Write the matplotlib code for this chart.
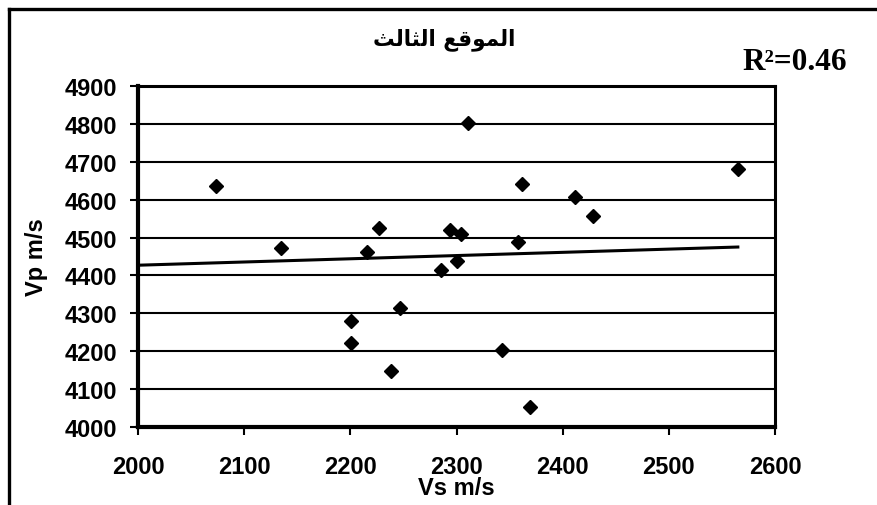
import matplotlib
matplotlib.use("Agg")
import matplotlib.pyplot as plt
from matplotlib.lines import Line2D

# data
vs = [2073, 2135, 2216, 2227, 2201, 2201, 2238, 2247, 2285, 2294,
      2300, 2304, 2311, 2343, 2358, 2362, 2369, 2412, 2429, 2565]
vp = [4636, 4472, 4462, 4526, 4281, 4223, 4149, 4314, 4414, 4520,
      4439, 4510, 4802, 4202, 4489, 4642, 4053, 4606, 4558, 4680]
trend_x = [2000, 2565]
trend_y = [4427, 4475]
x_ticks = [2000, 2100, 2200, 2300, 2400, 2500, 2600]
y_ticks = [4000, 4100, 4200, 4300, 4400, 4500, 4600, 4700, 4800, 4900]

title = "الموقع الثالث"
r2_text = "R²=0.46"

# matplotlib has no Arabic shaping -> pick presentation forms by hand
FORMS = {
    'ا': ('\uFE8D', '\uFE8E', None, None),
    'و': ('\uFEED', '\uFEEE', None, None),
    'ل': ('\uFEDD', '\uFEDE', '\uFEDF', '\uFEE0'),
    'م': ('\uFEE1', '\uFEE2', '\uFEE3', '\uFEE4'),
    'ق': ('\uFED5', '\uFED6', '\uFED7', '\uFED8'),
    'ع': ('\uFEC9', '\uFECA', '\uFECB', '\uFECC'),
    'ث': ('\uFE99', '\uFE9A', '\uFE9B', '\uFE9C'),
}


def shape_arabic(text):
    out = []
    for i, ch in enumerate(text):
        if ch not in FORMS:
            out.append(ch)
            continue
        prev = text[i - 1] if i > 0 else ''
        nxt = text[i + 1] if i + 1 < len(text) else ''
        iso, fin, ini, med = FORMS[ch]
        j_prev = prev in FORMS and FORMS[prev][2] is not None
        j_next = ini is not None and nxt in FORMS
        if j_prev and j_next:
            out.append(med)
        elif j_prev:
            out.append(fin)
        elif j_next:
            out.append(ini)
        else:
            out.append(iso)
    return ''.join(out)[::-1]   # right-to-left


W, H = 877, 506
fig = plt.figure(figsize=(W / 100, H / 100), dpi=100)
ax = fig.add_axes([138 / W, 1 - 428 / H, (775 - 138) / W, (428 - 87) / H])

ax.plot(vs, vp, 'D', color='black', markersize=7.2, zorder=3)
ax.plot(trend_x, trend_y, '-', color='black', lw=2.2, zorder=2)

ax.set_xlim(2000, 2600)
ax.set_ylim(4000, 4900)
ax.set_xticks(x_ticks)
ax.set_yticks(y_ticks)
ax.yaxis.grid(True, color='black', lw=1.5)
ax.set_axisbelow(True)

tick_font = dict(family='Liberation Sans', weight='bold', size=17)
ax.set_xticklabels([str(t) for t in x_ticks], fontdict=tick_font)
ax.set_yticklabels([str(t) for t in y_ticks], fontdict=tick_font)
ax.tick_params(axis='x', direction='out', length=6, width=1.5, pad=14)
ax.tick_params(axis='y', direction='out', length=6, width=1.5, pad=9)

for side in ['left', 'bottom']:
    ax.spines[side].set_linewidth(3)
for side in ['right', 'top']:
    ax.spines[side].set_linewidth(2.2)

ax.set_xlabel("Vs m/s", fontdict=tick_font, labelpad=-1)
ax.set_ylabel("Vp m/s", fontdict=tick_font, labelpad=12)

fig.text(444 / W, 1 - 40 / H, shape_arabic(title), ha='center', va='center',
         family=['DejaVu Sans'], weight='bold', size=15.5)
fig.text(847 / W, 1 - 62 / H, r2_text, ha='right', va='center',
         family='Liberation Serif', weight='bold', size=22.5)

# outer chart-area frame (cut off at right and bottom in the reference)
fx, fy = 9 / W, 1 - 10 / H
fig.add_artist(Line2D([fx, fx], [0, fy], transform=fig.transFigure,
                      color='black', lw=2.4))
fig.add_artist(Line2D([fx, 1], [fy, fy], transform=fig.transFigure,
                      color='black', lw=2.4))

fig.savefig("out.png", dpi=100)
